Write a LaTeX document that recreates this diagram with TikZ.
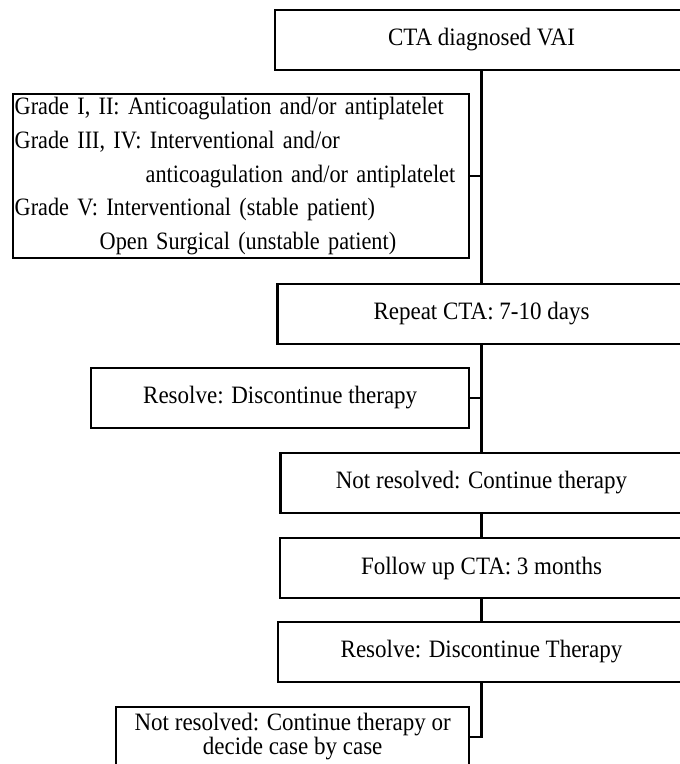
\documentclass[tikz,border=0pt]{standalone}
\usepackage{fontspec}
\setmainfont[FakeStretch=0.92]{Liberation Serif}
\newfontfamily\gradefont[FakeStretch=0.89]{Liberation Serif}
\definecolor{FlowBlack}{HTML}{000000}
\definecolor{FlowWhite}{HTML}{ffffff}
\usepackage{tikz}
\usetikzlibrary{positioning,calc}
\tikzset{
    % Base node style
    basenode/.style={
        draw=FlowBlack,
        fill=FlowWhite,
        line width=2.1pt,
        minimum height=60pt,
        inner sep=2pt,
        align=center,
        font=\fontsize{25}{33.7}\selectfont
    },
    % Main column box
    stepnode/.style={
        basenode
    },
    % Side branch box
    sidenode/.style={
        basenode
    },
    % Connector
    myline/.style={
        line width=2.1pt,
        draw=FlowBlack
    }
}
\begin{document}
\begin{tikzpicture}[x=1pt,y=-1pt]
        \useasboundingbox (0,0) rectangle (680,764);
        \clip (0,0) rectangle (680,764);

        % Main column
        \node[stepnode, minimum width=413pt] (cta) at (481.5,39.8) {CTA diagnosed VAI};
        \node[stepnode, minimum width=408pt] (repeat) at (481.5,313.7) {Repeat CTA: 7-10 days};
        \node[stepnode, minimum width=402pt] (notres) at (481.5,483) {Not resolved: Continue therapy};
        \node[stepnode, minimum width=403pt] (follow) at (481.5,568) {Follow up CTA: 3 months};
        \node[stepnode, minimum width=407pt] (resolvetwo) at (481.5,652) {Resolve: Discontinue Therapy};

        % Side branches
        \node[sidenode, align=left, text width=452.6pt, minimum height=164.3pt,
              font=\gradefont\fontsize{25}{33.7}\selectfont] (grade) at (241,176.2)
            {Grade I, II: Anticoagulation and/or antiplatelet\\
             Grade III, IV: Interventional and/or\\
             \hspace*{131pt}anticoagulation and/or antiplatelet\\
             Grade V: Interventional (stable patient)\\
             \hspace*{85pt}Open Surgical (unstable patient)};
        \node[sidenode, minimum width=378.3pt] (resolve) at (280.2,398) {Resolve: Discontinue therapy};
        \node[sidenode, minimum width=353.3pt, font=\fontsize{25}{22.5}\selectfont] (final) at (292.7,736.7)
            {Not resolved: Continue therapy or\\decide case by case};

        % Trunk
        \draw[myline] (cta) -- (repeat);
        \draw[myline] (repeat) -- (notres);
        \draw[myline] (notres) -- (follow);
        \draw[myline] (follow) -- (resolvetwo);
        \draw[myline] (resolvetwo) |- (final);

        % Branches
        \draw[myline] (grade.east) -- (grade.east -| cta.south);
        \draw[myline] (resolve.east) -- (resolve.east -| repeat.south);
    \end{tikzpicture}
\end{document}
